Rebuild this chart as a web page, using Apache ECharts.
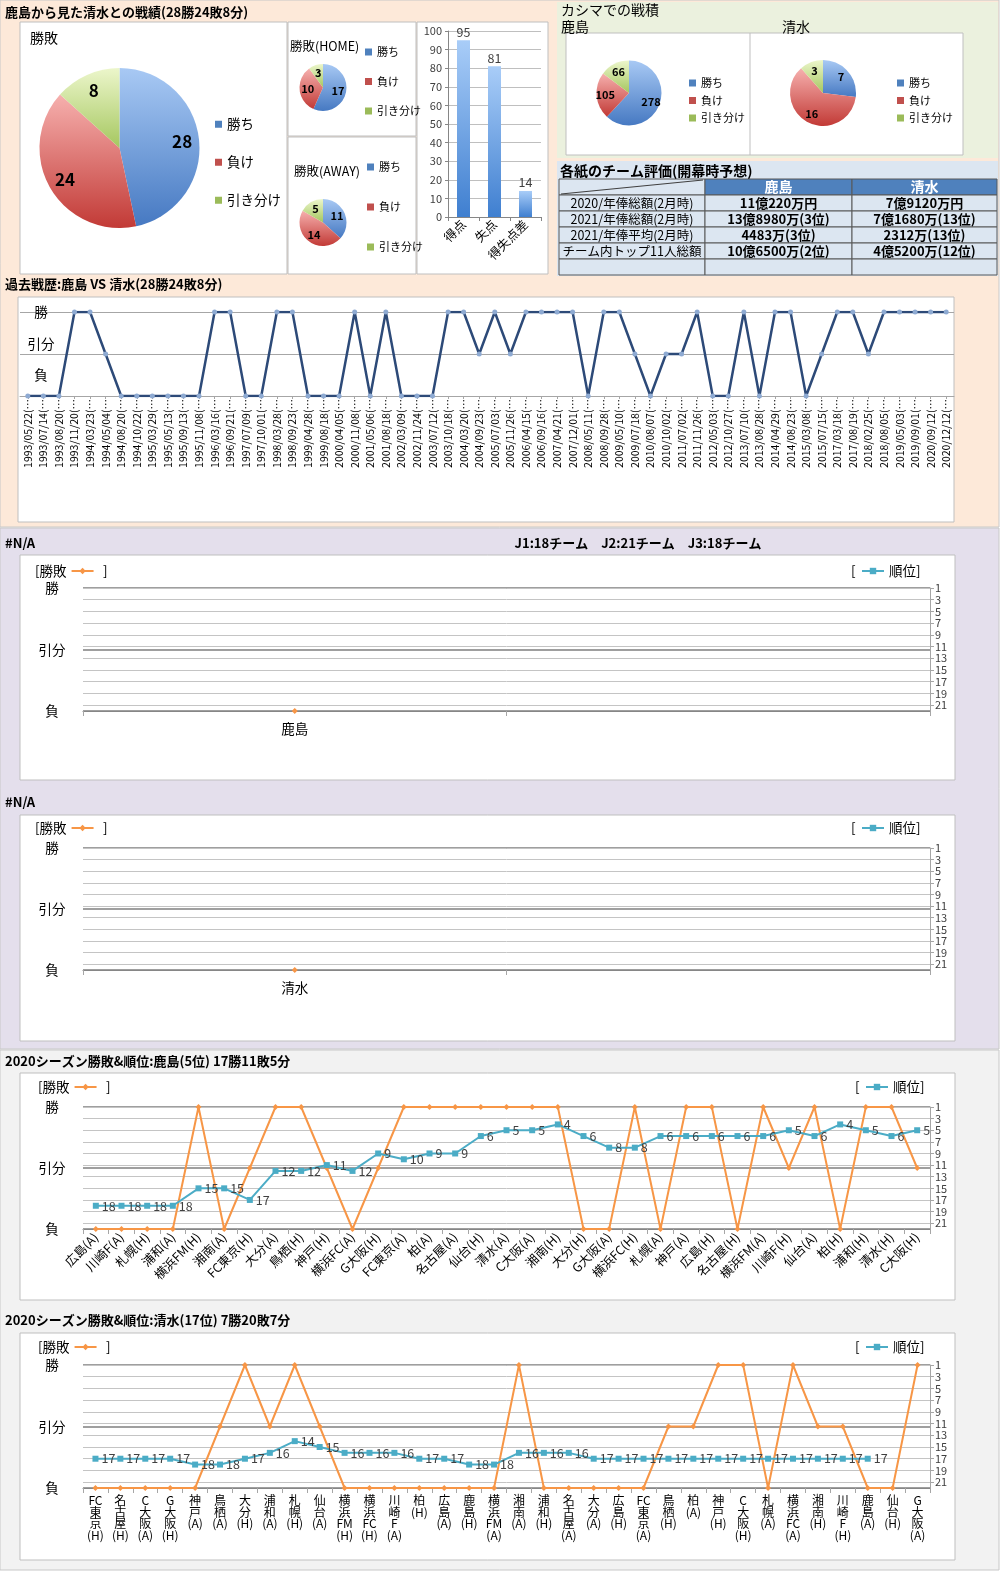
<!DOCTYPE html>
<html><head><meta charset="utf-8">
<script src="https://cdn.jsdelivr.net/npm/echarts@6/dist/echarts.min.js"></script>
<style>html,body{margin:0;padding:0;background:#fff}#c{width:1000px;height:1571px}</style>
</head><body><div id="c"></div><script>
// ---------- data ----------
const pieCats = ['勝ち','負け','引き分け'];
const totalVals = [28,24,8];
const homeVals = [17,10,3];
const awayVals = [11,14,5];
const goalCats = ['得点','失点','得失点差'];
const goalVals = [95,81,14];
const atKashimaKashima = [278,105,66];
const atKashimaShimizu = [7,16,3];
const resultTicks = ['負','引分','勝']; // 0,1,2
const tableHead = ['鹿島','清水'];
const tableRowLabels = ['2020/年俸総額(2月時)','2021/年俸総額(2月時)','2021/年俸平均(2月時)','チーム内トップ11人総額',''];
const tableKashima = ['11億220万円','13億8980万(3位)','4483万(3位)','10億6500万(2位)',''];
const tableShimizu = ['7億9120万円','7億1680万(13位)','2312万(13位)','4億5200万(12位)',''];
const pastDates = ['1993/05/22','1993/07/14','1993/08/20','1993/11/20','1994/03/23','1994/05/04','1994/08/20','1994/10/22','1995/03/29','1995/05/13','1995/09/13','1995/11/08','1996/03/16','1996/09/21','1997/07/09','1997/10/01','1998/03/28','1998/09/23','1999/04/28','1999/08/18','2000/04/05','2000/11/08','2001/05/06','2001/08/18','2002/03/09','2002/11/24','2003/07/12','2003/10/18','2004/03/20','2004/09/23','2005/07/03','2005/11/26','2006/04/15','2006/09/16','2007/04/21','2007/12/01','2008/05/11','2008/09/28','2009/05/10','2009/07/18','2010/08/07','2010/10/02','2011/07/02','2011/11/26','2012/05/03','2012/10/27','2013/07/10','2013/08/28','2014/04/29','2014/08/23','2015/03/08','2015/07/15','2017/03/18','2017/08/19','2018/02/25','2018/08/05','2019/05/03','2019/09/01','2020/09/12','2020/12/12'];
const pastResults = [0,0,0,2,2,1,0,0,0,0,0,0,2,2,0,0,2,2,0,0,0,2,0,2,0,0,0,2,2,1,2,1,2,2,2,2,0,2,2,1,0,1,1,2,0,0,2,0,2,2,0,1,2,2,1,2,2,2,2,2];
const naCatsK = ['鹿島',''];
const naCatsS = ['清水',''];
const naRes = [0,null];
const naRank = [null,null];
const kashimaOpp = ['広島(A)','川崎F(A)','札幌(H)','浦和(A)','横浜FM(H)','湘南(A)','FC東京(H)','大分(A)','鳥栖(H)','神戸(H)','横浜FC(A)','G大阪(H)','FC東京(A)','柏(A)','名古屋(A)','仙台(H)','清水(A)','C大阪(A)','湘南(H)','大分(H)','G大阪(A)','横浜FC(H)','札幌(A)','神戸(A)','広島(H)','名古屋(H)','横浜FM(A)','川崎F(H)','仙台(A)','柏(H)','浦和(H)','清水(H)','C大阪(H)'];
const kashimaRes = [0,0,0,0,2,0,1,2,2,1,0,1,2,2,2,2,2,2,2,0,0,2,0,2,2,0,2,1,2,0,2,2,1];
const kashimaRank = [18,18,18,18,15,15,17,12,12,11,12,9,10,9,9,6,5,5,4,6,8,8,6,6,6,6,6,5,6,4,5,6,5];
const shimizuOpp = ['FC東京(H)','名古屋(H)','C大阪(A)','G大阪(H)','神戸(A)','鳥栖(A)','大分(H)','浦和(A)','札幌(H)','仙台(A)','横浜FM(H)','横浜FC(H)','川崎F(A)','柏(H)','広島(A)','鹿島(H)','横浜FM(A)','湘南(A)','浦和(H)','名古屋(A)','大分(A)','広島(H)','FC東京(A)','鳥栖(H)','柏(A)','神戸(H)','C大阪(H)','札幌(A)','横浜FC(A)','湘南(H)','川崎F(H)','鹿島(A)','仙台(H)','G大阪(A)'];
const shimizuRes = [0,0,0,0,0,1,2,1,2,1,0,0,0,0,0,0,0,2,0,0,0,0,0,1,1,2,2,0,2,1,1,0,0,2];
const shimizuRank = [17,17,17,17,18,18,17,16,14,15,16,16,16,17,17,18,18,16,16,16,17,17,17,17,17,17,17,17,17,17,17,17,null,null];

// ---------- helpers ----------
const FONT = '"Noto Sans CJK JP","Noto Sans",sans-serif';
const chart = echarts.init(document.getElementById('c'), null, {width:1000, height:1571});
function vgrad(a,b){return new echarts.graphic.LinearGradient(0,0,0,1,[{offset:0,color:a},{offset:1,color:b}]);}
const pieGrad = [vgrad('#a8c9f4','#4679c2'), vgrad('#f6b0ae','#c23a36'), vgrad('#ecf6cb','#a5c75f')];
const pieSolid = ['#4f81bd','#c0504d','#9bbb59'];
const gfx=[], grids=[], xAxes=[], yAxes=[], series=[], legends=[];
function R(x,y,w,h,fill,stroke,z){return {type:'rect',shape:{x,y,width:w,height:h},style:{fill,stroke:stroke||null,lineWidth:stroke?1:0},z:(z===undefined?-10:z),silent:true};}
function L(x1,y1,x2,y2,color,w,z){return {type:'line',shape:{x1,y1,x2,y2},style:{stroke:color,lineWidth:w||1},z:(z===undefined?-5:z),silent:true};}
function T(text,x,y,size,o){o=o||{};const al=o.align||'left';return {type:'text',z:100,silent:true,style:{text,x,y,fill:o.color||'#000',font:(o.bold?'bold ':'')+size+'px '+FONT,textAlign:al,textVerticalAlign:'middle',align:al,verticalAlign:'middle'}};}

// ---------- backgrounds / boxes ----------
gfx.push(R(0,0,999,527,'#fde9d9','#c8c8c8',-20));
gfx.push(R(0,528,999,521,'#e4dfec','#c8c8c8',-20));
gfx.push(R(0,1050,999,520,'#f2f2f2','#c8c8c8',-20));
gfx.push(R(557,2,441,156,'#ebf1de',null,-15));
gfx.push(R(557,161,441,115,'#dce6f1',null,-15));
[[20,22,267,252],[288,22,128,114],[288,137,128,137],[417,22,131,252],[566,33,397,122],[18,297,936,225],[20,555,935,225],[20,815,935,226],[20,1073,935,227],[20,1333,935,227]]
  .forEach(b=>gfx.push(R(b[0],b[1],b[2],b[3],'#ffffff','#bfbfbf',-12)));
gfx.push(L(750,33,750,155,'#bfbfbf',1,-11));

// ---------- titles ----------
gfx.push(T('鹿島から見た清水との戦績(28勝24敗8分)',5,12,13,{bold:true}));
gfx.push(T('勝敗',30,38,14));
gfx.push(T('勝敗(HOME)',290,46,12.5));
gfx.push(T('勝敗(AWAY)',294,171,12.5));
gfx.push(T('カシマでの戦積',561,10,14));
gfx.push(T('鹿島',561,27,14));
gfx.push(T('清水',782,27,14));
gfx.push(T('各紙のチーム評価(開幕時予想)',560,171,14,{bold:true}));
gfx.push(T('過去戦歴:鹿島 VS 清水(28勝24敗8分)',5,284,13,{bold:true}));
gfx.push(T('#N/A',5,543,13,{bold:true}));
gfx.push(T('J1:18チーム　J2:21チーム　J3:18チーム',638,543,13,{bold:true,align:'center'}));
gfx.push(T('#N/A',5,802,13,{bold:true}));
gfx.push(T('2020シーズン勝敗&順位:鹿島(5位) 17勝11敗5分',5,1061,13,{bold:true}));
gfx.push(T('2020シーズン勝敗&順位:清水(17位) 7勝20敗7分',5,1320,13,{bold:true}));

// ---------- table ----------
(function(){
  const tx=[559,705,852,997], y0=179, rh=16;
  gfx.push(R(tx[0],y0,tx[1]-tx[0],rh,'#dce6f1','#595959',10));
  gfx.push(L(tx[0]+2,y0+rh-1,tx[1]-2,y0+1,'#404040',1.2,11));
  for(let c=0;c<2;c++){
    gfx.push(R(tx[c+1],y0,tx[c+2]-tx[c+1],rh,'#4f81bd','#595959',10));
    gfx.push(T(tableHead[c],(tx[c+1]+tx[c+2])/2,y0+rh/2,14,{bold:true,color:'#ffffff',align:'center'}));
  }
  tableRowLabels.forEach((lab,i)=>{
    const y=y0+rh*(i+1);
    const vals=[lab,tableKashima[i],tableShimizu[i]];
    for(let c=0;c<3;c++){
      gfx.push(R(tx[c],y,tx[c+1]-tx[c],rh,'#dce6f1','#595959',10));
      if(vals[c]) gfx.push(T(vals[c],(tx[c]+tx[c+1])/2,y+rh/2+0.5,c===0?12.5:13,{bold:c>0,align:'center',color:'#000'}));
    }
  });
})();

// ---------- pies ----------
function pie(vals,cx,cy,r,fs,r0){
  series.push({type:'pie',center:[cx,cy],radius:[0,r],startAngle:90,clockwise:true,silent:true,
    label:{show:false},labelLine:{show:false},emphasis:{disabled:true},
    data:pieCats.map((n,i)=>({name:n,value:vals[i],itemStyle:{color:pieGrad[i]}}))});
  series.push({type:'pie',center:[cx,cy],radius:[r0,r],startAngle:90,clockwise:true,silent:true,legendHoverLink:false,z:5,
    label:{show:true,position:'inside',formatter:'{c}',fontSize:fs,fontWeight:'bold',color:'#000',fontFamily:FONT},
    labelLine:{show:false},emphasis:{disabled:true},itemStyle:{color:'rgba(0,0,0,0)'},
    data:pieCats.map((n,i)=>({name:n,value:vals[i]}))});
}
pie(totalVals,119.5,148,80,17,40);
pie(homeVals,323,87.5,23.5,11,1);
pie(awayVals,323,222.5,23.5,11,1);
pie(atKashimaKashima,629,93,32.5,11,9);
pie(atKashimaShimizu,823,93,33,11,9);
function pieLegend(left,top,fs,gap){
  legends.push({orient:'vertical',left,top,padding:0,itemGap:gap,itemWidth:7,itemHeight:7,icon:'rect',selectedMode:false,
    textStyle:{fontSize:fs,color:'#000',lineHeight:fs+3,fontFamily:FONT},
    data:pieCats.map((n,i)=>({name:n,itemStyle:{color:pieSolid[i]}}))});
}
pieLegend(215,116,13.5,21.5);
pieLegend(365,45,11,15.5);
pieLegend(367,160,11,26);
pieLegend(689,76,11,3.5);
pieLegend(897,76,11,3.5);

// ---------- goals bar ----------
grids.push({left:448,top:31,width:93,height:186,containLabel:false,outerBoundsMode:'none'});
xAxes.push({gridIndex:0,type:'category',data:goalCats,axisLine:{lineStyle:{color:'#868686'}},axisTick:{show:true,length:4,lineStyle:{color:'#868686'}},
  axisLabel:{interval:0,rotate:45,fontSize:12.5,color:'#000',margin:5}});
yAxes.push({gridIndex:0,type:'value',min:0,max:100,interval:10,axisLine:{show:true,lineStyle:{color:'#868686'}},axisTick:{show:true,length:3,lineStyle:{color:'#868686'}},
  axisLabel:{fontSize:11,color:'#404040',margin:6,showMinLabel:true,showMaxLabel:true},splitLine:{show:true,lineStyle:{color:'#bfbfbf'}}});
series.push({type:'bar',name:'得点失点',xAxisIndex:0,yAxisIndex:0,data:goalVals,barWidth:13,silent:true,
  itemStyle:{color:vgrad('#a9cdf8','#3f7fd0')},label:{show:true,position:'top',distance:2,fontSize:12.5,color:'#404040'}});

// ---------- past results ----------
grids.push({left:20,top:312,width:934,height:84,containLabel:false,outerBoundsMode:'none'});
xAxes.push({gridIndex:1,type:'category',data:pastDates,boundaryGap:true,axisLine:{lineStyle:{color:'#a6a6a6'}},
  axisTick:{show:true,alignWithLabel:true,length:3,lineStyle:{color:'#a6a6a6'}},
  axisLabel:{interval:0,rotate:90,fontSize:10.5,color:'#000',margin:3,formatter:v=>v+'(…'}});
yAxes.push({gridIndex:1,type:'value',min:0,max:2,interval:0.25,position:'left',axisLine:{show:false},axisTick:{show:false},splitLine:{show:false},
  axisLabel:{inside:true,align:'center',margin:21,fontSize:13.5,color:'#000',showMinLabel:true,showMaxLabel:true,formatter:v=>({2:'勝',1.25:'引分',0.5:'負'})[v]||''}});
yAxes.push({gridIndex:1,type:'value',min:0,max:2,interval:1,position:'right',axisLine:{show:false},axisTick:{show:false},axisLabel:{show:false},
  splitLine:{show:true,lineStyle:{color:'#a6a6a6'}}});
series.push({type:'line',name:'戦歴',xAxisIndex:1,yAxisIndex:2,data:pastResults,symbol:'circle',symbolSize:5,silent:true,
  lineStyle:{color:'#2d4a78',width:2.5},itemStyle:{color:'#8eaad2'},z:3});

// ---------- combo charts ----------
const stackLabel = s => (s.match(/\([A-Z]\)|[A-Za-z]+|./g)||[]).join('\n');
function combo(top,height,cats,res,rank,xLabel,legY,lb,rb){
  const g=grids.length;
  grids.push({left:83,top,width:847,height,containLabel:false,outerBoundsMode:'none'});
  const xi=xAxes.length;
  xAxes.push({gridIndex:g,type:'category',data:cats,boundaryGap:true,axisLine:{lineStyle:{color:'#868686'}},
    axisTick:{show:true,length:5,lineStyle:{color:'#a6a6a6'}},axisLabel:Object.assign({interval:0,color:'#000',fontSize:12.5},xLabel)});
  const yl=yAxes.length;
  yAxes.push({gridIndex:g,type:'value',min:0,max:2,interval:1,position:'left',axisLine:{show:false},axisTick:{show:false},
    axisLabel:{formatter:v=>resultTicks[v],align:'center',margin:31,fontSize:13.5,color:'#000',showMinLabel:true,showMaxLabel:true},
    splitLine:{show:true,lineStyle:{color:'#7f7f7f',width:1.5}}});
  yAxes.push({gridIndex:g,type:'value',inverse:true,min:1,max:22,interval:2,position:'right',
    axisLine:{show:true,lineStyle:{color:'#a6a6a6'}},axisTick:{show:true,length:4,lineStyle:{color:'#a6a6a6'}},
    axisLabel:{formatter:v=>v>21?'':String(v),margin:5,fontSize:11,lineHeight:10,color:'#404040',showMinLabel:true,showMaxLabel:false,hideOverlap:false},
    splitLine:{show:true,lineStyle:{color:'#c4c4c4'}}});
  series.push({type:'line',name:'勝敗',xAxisIndex:xi,yAxisIndex:yl,data:res,symbol:'diamond',symbolSize:6,silent:true,
    lineStyle:{color:'#f79646',width:2},itemStyle:{color:'#f79646'},z:3});
  series.push({type:'line',name:'順位',xAxisIndex:xi,yAxisIndex:yl+1,data:rank,symbol:'rect',symbolSize:6,silent:true,
    lineStyle:{color:'#4bacc6',width:2},itemStyle:{color:'#4bacc6'},z:4,
    label:{show:true,position:'right',distance:3,fontSize:12.5,color:'#404040'}});
  legends.push({data:['勝敗'],left:lb,top:legY-8,padding:0,align:'right',formatter:'[{name}',itemWidth:22,itemHeight:8,selectedMode:false,
    textStyle:{fontSize:13.5,color:'#000',lineHeight:16,fontFamily:FONT}});
  gfx.push(T(']',lb+68,legY,13.5,{color:'#000'}));
  legends.push({data:['順位'],left:rb+10,top:legY-8,padding:0,align:'left',formatter:'{name}]',itemWidth:22,itemHeight:8,selectedMode:false,
    textStyle:{fontSize:13.5,color:'#000',lineHeight:16,fontFamily:FONT}});
  gfx.push(T('[',rb,legY,13.5,{color:'#000'}));
}
combo(588,123,naCatsK,naRes,naRank,{rotate:0,margin:11,fontSize:13.5},571,35,851);
combo(848,122,naCatsS,naRes,naRank,{rotate:0,margin:11,fontSize:13.5},828,35,851);
combo(1107,122,kashimaOpp,kashimaRes,kashimaRank,{rotate:45,margin:6},1087,38,855);
combo(1365,123,shimizuOpp,shimizuRes,shimizuRank,{rotate:0,margin:7,fontSize:12,lineHeight:11.5,formatter:stackLabel},1347,38,855);

chart.setOption({
  animation:false,
  backgroundColor:'#ffffff',
  textStyle:{fontFamily:FONT},
  graphic:{elements:gfx},
  grid:grids, xAxis:xAxes, yAxis:yAxes, series, legend:legends
});
</script></body></html>
